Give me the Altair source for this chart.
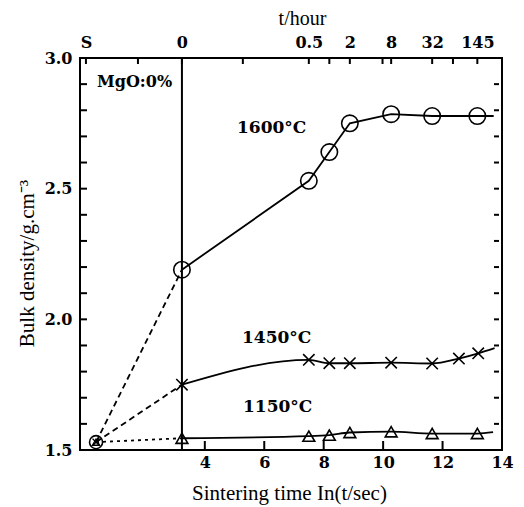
import altair as alt
import pandas as pd

# ---------------- data ----------------
start_x = 0.34          # "S" : start of heating
start_y = 1.53
ref_x = 3.23            # t = 0 h

x_1600 = [3.23, 7.50, 8.19, 8.88, 10.27, 11.65, 13.17]
y_1600 = [2.19, 2.53, 2.64, 2.75, 2.785, 2.778, 2.778]
tail_1600 = [13.72, 2.778]

x_1450 = [3.23, 7.50, 8.19, 8.88, 10.27, 11.65, 12.55, 13.20]
y_1450 = [1.75, 1.845, 1.832, 1.832, 1.834, 1.831, 1.85, 1.87]
tail_1450 = [13.75, 1.89]

x_1150 = [3.23, 7.50, 8.19, 8.88, 10.27, 11.65, 13.17]
y_1150 = [1.545, 1.553, 1.557, 1.567, 1.570, 1.563, 1.563]
tail_1150 = [13.70, 1.568]

bottom_labels = [4, 6, 8, 10, 12, 14]
bottom_ticks = [4, 6, 8, 10, 12]
top_label_vals = [0.0, 3.23, 7.50, 8.88, 10.27, 11.65, 13.17]
top_labels = ["S", "0", "0.5", "2", "8", "32", "145"]
top_tick_vals = [0.0, 1.75, 3.23, 5.28, 7.50, 8.19, 8.88, 9.98, 10.27, 11.65, 12.35, 13.17]
y_labels = [1.5, 2.0, 2.5, 3.0]
y_minor = [1.6, 1.7, 1.8, 1.9, 2.0, 2.1, 2.2, 2.3, 2.4, 2.5, 2.6, 2.7, 2.8, 2.9]

annotations = ["MgO:0%", "1600°C", "1450°C", "1150°C"]

# ---------------- tables ----------------
def series_df(name, xs_, ys_):
    return pd.DataFrame({"series": name, "x": xs_, "y": ys_})

pts_1600 = series_df("1600", x_1600, y_1600)
pts_1450 = series_df("1450", x_1450, y_1450)
pts_1150 = series_df("1150", x_1150, y_1150)

line_1600 = series_df("1600", x_1600 + [tail_1600[0]], y_1600 + [tail_1600[1]])
line_low = pd.concat([
    series_df("1450", x_1450 + [tail_1450[0]], y_1450 + [tail_1450[1]]),
    series_df("1150", x_1150 + [tail_1150[0]], y_1150 + [tail_1150[1]]),
])

dash_df = pd.concat([
    series_df("1600", [start_x, x_1600[0]], [start_y, y_1600[0]]),
    series_df("1450", [start_x, x_1450[0]], [start_y, y_1450[0]]),
])
dot_df = series_df("1150", [start_x, x_1150[0]], [start_y, y_1150[0]])
start_df = pd.DataFrame({"x": [start_x], "y": [start_y]})
ref_df = pd.DataFrame({"x": [ref_x]})

# ---------------- styling ----------------
SERIF = "Liberation Serif"
BOLD = "DejaVu Serif"
W, H = 422, 392

xs = alt.Scale(domain=[-0.2, 14], nice=False, zero=False)
ys = alt.Scale(domain=[1.5, 3.0], nice=False, zero=False)


def label_expr(vals, labels):
    expr = "''"
    for v, l in reversed(list(zip(vals, labels))):
        expr = f"abs(datum.value - {v}) < 0.001 ? '{l}' : ({expr})"
    return expr


common = dict(grid=False, domain=False, labelColor="black", titleColor="black",
              tickColor="black")

ax_x_labels = alt.Axis(orient="bottom", values=bottom_labels, format="d", tickSize=0,
                       labelFont=BOLD, labelFontSize=16, labelFontWeight="bold",
                       labelPadding=4, labelFlush=False,
                       title="Sintering time In(t/sec)", titleFont=SERIF,
                       titleFontSize=21, titleFontWeight="normal",
                       titleX=W / 2 - 2, titleY=43, titleAlign="center",
                       titleBaseline="middle", **common)
ax_x_top_labels = alt.Axis(orient="top", values=top_label_vals,
                           labelExpr=label_expr(top_label_vals, top_labels),
                           tickSize=0, labelFont=BOLD, labelFontSize=16,
                           labelFontWeight="bold", labelPadding=8, labelFlush=False,
                           title="t/hour", titleFont=SERIF, titleFontSize=20,
                           titleFontWeight="normal", titleX=222, titleY=-40,
                           titleAlign="center", titleBaseline="middle", **common)
ax_y_labels = alt.Axis(orient="left", values=y_labels, format=".1f", tickSize=0,
                       labelFont=BOLD, labelFontSize=16, labelFontWeight="bold",
                       labelPadding=8, labelFlush=False,
                       title="Bulk density/g.cm⁻³", titleFont=SERIF,
                       titleFontSize=21, titleFontWeight="normal",
                       titleAngle=270, titleX=-53, titleY=205, titleAlign="center",
                       titleBaseline="middle", **common)


def enc(xaxis=None, yaxis=None):
    return dict(x=alt.X("x:Q", scale=xs, axis=xaxis),
                y=alt.Y("y:Q", scale=ys, axis=yaxis))


dashed = alt.Chart(dash_df).mark_line(color="black", strokeWidth=1.8,
                                      strokeDash=[6, 4]).encode(
    detail="series:N", **enc(ax_x_labels, ax_y_labels))
dotted = alt.Chart(dot_df).mark_line(color="black", strokeWidth=1.8,
                                     strokeDash=[3, 4]).encode(**enc())
solid_1600 = alt.Chart(line_1600).mark_line(color="black", strokeWidth=1.8,
                                            interpolate="linear").encode(**enc())
solid_low = alt.Chart(line_low).mark_line(color="black", strokeWidth=1.8,
                                          interpolate="monotone").encode(
    detail="series:N", **enc())

circles = alt.Chart(pts_1600).mark_point(shape="circle", filled=False, size=270,
                                         color="black", strokeWidth=1.6,
                                         opacity=1).encode(**enc())
crosses = alt.Chart(pts_1450).mark_point(shape="M-1,-1L1,1M-1,1L1,-1", filled=False,
                                         size=130, color="black", strokeWidth=1.6,
                                         opacity=1).encode(**enc(ax_x_top_labels, None))
triangles = alt.Chart(pts_1150).mark_point(shape="triangle-up", filled=False, size=140,
                                           color="black", strokeWidth=1.6,
                                           opacity=1).encode(**enc())

start_c = alt.Chart(start_df).mark_point(shape="circle", filled=False, size=170,
                                         color="black", strokeWidth=1.6,
                                         opacity=1).encode(**enc())
start_x_m = alt.Chart(start_df).mark_point(shape="M-1,-1L1,1M-1,1L1,-1", filled=False,
                                           size=50, color="black", strokeWidth=1.4,
                                           opacity=1).encode(**enc())
start_t = alt.Chart(start_df).mark_point(shape="triangle-up", filled=False, size=50,
                                         color="black", strokeWidth=1.4,
                                         opacity=1).encode(**enc())

vline = alt.Chart(ref_df).mark_rule(color="black", strokeWidth=2).encode(
    x=alt.X("x:Q", scale=xs, axis=None))

# inward tick marks, placed through the scales
tick_style = dict(color="black", strokeWidth=2)
minor_df = pd.DataFrame({"v": y_minor})
left_ticks = alt.Chart(minor_df).mark_rule(**tick_style).encode(
    y=alt.Y("v:Q", scale=ys, axis=None), x=alt.value(0), x2=alt.value(7))
right_ticks = alt.Chart(minor_df).mark_rule(**tick_style).encode(
    y=alt.Y("v:Q", scale=ys, axis=None), x=alt.value(W - 8), x2=alt.value(W - 3))
bottom_tk = alt.Chart(pd.DataFrame({"v": bottom_ticks})).mark_rule(**tick_style).encode(
    x=alt.X("v:Q", scale=xs, axis=None), y=alt.value(H - 9), y2=alt.value(H))
top_tk = alt.Chart(pd.DataFrame({"v": top_tick_vals})).mark_rule(**tick_style).encode(
    x=alt.X("v:Q", scale=xs, axis=None), y=alt.value(0), y2=alt.value(6))


def note(text, px, py, font, size):
    return alt.Chart(pd.DataFrame({"label": [text]})).mark_text(
        align="left", baseline="middle", font=font, fontSize=size,
        fontWeight="bold", color="black", x=px, y=py).encode(text="label:N")


notes = [
    note(annotations[0], 17, 24, BOLD, 16),
    note(annotations[1], 157, 70, BOLD, 17),
    note(annotations[2], 162, 280, BOLD, 17),
    note(annotations[3], 163, 349, BOLD, 17),
]

chart = alt.layer(
    dashed, dotted, solid_1600, solid_low, vline,
    left_ticks, right_ticks, bottom_tk, top_tk,
    circles, crosses, triangles, start_c, start_x_m, start_t, *notes
).resolve_axis(x="independent", y="independent").properties(
    width=W, height=H,
    padding={"left": 72, "top": 50, "right": 12, "bottom": 55},
    autosize=alt.AutoSizeParams(type="none"),
    background="white",
).configure_view(stroke="black", strokeWidth=2)

chart.save("out.html", embed_options={"renderer": "svg", "actions": False})
